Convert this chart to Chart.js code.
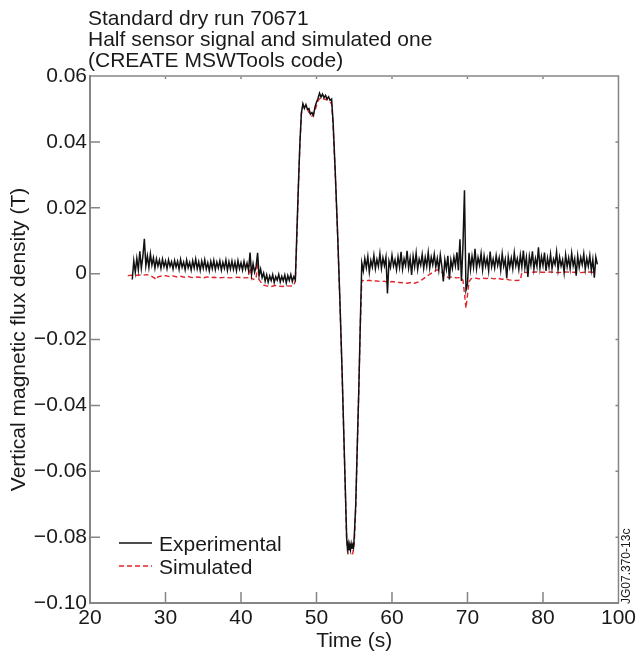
<!DOCTYPE html>
<html>
<head>
<meta charset="utf-8">
<script src="https://cdn.jsdelivr.net/npm/chart.js@4.4.1/dist/chart.umd.min.js"></script>
<style>
  html, body { margin: 0; padding: 0; background: #fff; }
  #wrap { width: 639px; height: 660px; }
</style>
</head>
<body>
<div id="wrap"><canvas id="flux" width="639" height="660"></canvas></div>
<script>
// Standard dry run 70671, half sensor signal vs simulated one
const titleLines = ['Standard dry run 70671', 'Half sensor signal and simulated one', '(CREATE MSWTools code)'];
const xTicksShown = [20, 30, 40, 50, 60, 70, 80, 90];
const xTickText = ['20', '30', '40', '50', '60', '70', '80', '100'];

// [time (s), flux (T)]
const experimental = [
  [25.6,-0.0018],[25.8,0.0039],[26.0,0.0004],[26.2,0.0046],[26.4,0.0012],[26.6,0.0068],[26.8,0.0016],[27.0,0.0052],
  [27.2,0.0106],[27.4,0.0024],[27.6,0.0054],[27.8,0.0019],[28.0,0.0060],[28.2,0.0026],[28.4,0.0048],[28.6,0.0017],
  [28.8,0.0045],[29.0,0.0023],[29.2,0.0041],[29.4,0.0016],[29.6,0.0044],[29.8,0.0021],[30.0,0.0038],[30.2,0.0015],
  [30.4,0.0042],[30.6,0.0022],[30.8,0.0036],[31.0,0.0014],[31.2,0.0040],[31.4,0.0020],[31.6,0.0037],[31.8,0.0013],
  [32.0,0.0043],[32.2,0.0019],[32.4,0.0035],[32.6,0.0012],[32.8,0.0041],[33.0,0.0018],[33.2,0.0034],[33.4,0.0011],
  [33.6,0.0039],[33.8,0.0017],[34.0,0.0044],[34.2,0.0015],[34.4,0.0036],[34.6,0.0010],[34.8,0.0038],[35.0,0.0016],
  [35.2,0.0042],[35.4,0.0014],[35.6,0.0033],[35.8,0.0009],[36.0,0.0037],[36.2,0.0015],[36.4,0.0040],[36.6,0.0012],
  [36.8,0.0035],[37.0,0.0017],[37.2,0.0039],[37.4,0.0011],[37.6,0.0034],[37.8,0.0016],[38.0,0.0041],[38.2,0.0010],
  [38.4,0.0036],[38.6,0.0014],[38.8,0.0038],[39.0,0.0013],[39.2,0.0035],[39.4,0.0009],[39.6,0.0039],[39.8,0.0015],
  [40.0,0.0033],[40.2,0.0011],[40.4,0.0037],[40.6,0.0014],[40.8,0.0032],[41.0,0.0010],
  [41.2,0.0064],[41.4,-0.0002],[41.6,0.0030],[41.8,0.0004],[42.0,0.0022],[42.2,0.0063],[42.4,-0.0006],[42.6,0.0014],
  [42.8,-0.0012],[43.0,0.0002],[43.2,-0.0023],[43.4,-0.0004],[43.6,-0.0026],[43.8,-0.0007],[44.0,-0.0021],[44.2,-0.0003],
  [44.4,-0.0027],[44.6,-0.0009],[44.8,-0.0020],[45.0,-0.0002],[45.2,-0.0025],[45.4,-0.0008],[45.6,-0.0022],[45.8,-0.0004],
  [46.0,-0.0028],[46.2,-0.0006],[46.4,-0.0021],[46.6,-0.0003],[46.8,-0.0024],[47.0,-0.0009],[47.2,-0.0019],
  [47.4,0.0125],[47.6,0.0265],[47.8,0.0395],[48.0,0.0488],[48.2,0.0516],[48.4,0.0502],[48.6,0.0513],[48.8,0.0499],
  [49.0,0.0501],[49.2,0.0484],[49.4,0.0489],[49.6,0.0480],[49.8,0.0506],[50.0,0.0520],[50.2,0.0532],[50.4,0.0548],
  [50.6,0.0536],[50.8,0.0545],[51.0,0.0534],[51.2,0.0541],[51.4,0.0530],[51.6,0.0537],[51.8,0.0526],[52.0,0.0530],
  [52.2,0.0460],[52.5,0.0300],[52.8,0.0120],[53.1,-0.0080],[53.4,-0.0305],[53.7,-0.0555],[54.0,-0.0805],[54.1,-0.0835],
  [54.2,-0.0820],[54.3,-0.0840],[54.4,-0.0823],[54.5,-0.0838],[54.6,-0.0821],[54.7,-0.0836],[54.8,-0.0824],[54.9,-0.0832],
  [55.0,-0.0800],[55.2,-0.0700],[55.4,-0.0525],[55.6,-0.0355],[55.8,-0.0155],[56.0,0.0032],
  [56.2,0.0008],[56.4,0.0046],[56.6,0.0018],[56.8,0.0052],[57.0,0.0004],[57.2,0.0040],[57.4,0.0020],[57.6,0.0055],
  [57.8,0.0015],[58.0,0.0043],[58.2,0.0022],[58.4,0.0061],[58.6,0.0016],[58.8,0.0048],[59.0,0.0024],[59.2,0.0050],
  [59.4,-0.0060],[59.6,0.0038],[59.8,0.0019],[60.0,0.0056],[60.2,0.0023],[60.4,0.0042],[60.6,0.0012],[60.8,0.0051],
  [61.0,0.0020],[61.2,0.0066],[61.4,0.0014],[61.6,0.0045],[61.8,0.0025],[62.0,0.0069],[62.2,0.0017],[62.4,0.0047],
  [62.6,-0.0004],[62.8,0.0053],[63.0,0.0021],[63.2,0.0062],[63.4,0.0013],[63.6,0.0044],[63.8,0.0026],[64.0,0.0058],
  [64.2,0.0016],[64.4,0.0049],[64.6,0.0022],[64.8,0.0064],[65.0,0.0018],[65.2,0.0050],[65.4,0.0027],[65.6,0.0059],
  [65.8,0.0020],[66.0,0.0046],[66.2,0.0011],[66.4,0.0057],[66.6,0.0023],[66.8,-0.0024],[67.0,0.0042],[67.2,0.0014],
  [67.4,0.0054],[67.6,-0.0018],[67.8,0.0041],[68.0,0.0016],[68.2,0.0050],[68.4,0.0024],[68.6,0.0065],[68.8,0.0010],
  [69.0,0.0104],[69.2,-0.0022],[69.4,0.0085],[69.6,0.0253],[69.8,-0.0050],[70.0,-0.0032],[70.2,0.0063],[70.4,0.0013],
  [70.6,0.0053],[70.8,0.0020],[71.0,0.0075],[71.2,0.0015],[71.4,0.0049],[71.6,0.0026],[71.8,0.0061],[72.0,0.0012],
  [72.2,0.0054],[72.4,0.0023],[72.6,0.0046],[72.8,0.0009],[73.0,0.0067],[73.2,0.0021],[73.4,0.0044],[73.6,0.0017],
  [73.8,0.0055],[74.0,0.0025],[74.2,0.0048],[74.4,0.0011],[74.6,0.0060],[74.8,0.0022],[75.0,0.0043],[75.2,-0.0014],
  [75.4,0.0051],[75.6,0.0020],[75.8,0.0047],[76.0,0.0015],[76.2,0.0063],[76.4,0.0024],[76.6,0.0045],[76.8,0.0013],
  [77.0,0.0056],[77.2,0.0021],[77.4,0.0070],[77.6,0.0018],[77.8,0.0049],[78.0,-0.0010],[78.2,0.0053],[78.4,0.0026],
  [78.6,0.0068],[78.8,0.0014],[79.0,0.0046],[79.2,0.0022],[79.4,0.0080],[79.6,0.0017],[79.8,0.0052],[80.0,0.0025],
  [80.2,0.0064],[80.4,0.0008],[80.6,0.0047],[80.8,0.0020],[81.0,0.0059],[81.2,0.0016],[81.4,0.0044],[81.6,0.0028],
  [81.8,0.0066],[82.0,0.0012],[82.2,0.0050],[82.4,0.0023],[82.6,0.0042],[82.8,0.0003],[83.0,0.0057],[83.2,0.0021],
  [83.4,0.0048],[83.6,0.0015],[83.8,0.0062],[84.0,0.0024],[84.2,0.0045],[84.4,-0.0006],[84.6,0.0054],[84.8,0.0019],
  [85.0,0.0049],[85.2,0.0027],[85.4,0.0060],[85.6,0.0013],[85.8,0.0046],[86.0,0.0022],[86.2,0.0055],[86.4,0.0010],
  [86.6,0.0043],[86.8,-0.0012],[87.0,0.0050],[87.2,0.0028]
];

const simulated = [
  [25.0,-0.0006],[25.5,-0.0005],[26.0,-0.0006],[26.5,-0.0004],[27.0,-0.0005],[27.5,-0.0003],[28.0,-0.0006],[28.5,-0.0013],
  [28.8,-0.0018],[29.0,-0.0010],[29.5,-0.0007],[30.0,-0.0006],[30.5,-0.0009],[31.0,-0.0007],[31.5,-0.0010],[32.0,-0.0008],
  [32.5,-0.0011],[33.0,-0.0009],[33.5,-0.0012],[34.0,-0.0010],[34.5,-0.0011],[35.0,-0.0013],[35.5,-0.0010],[36.0,-0.0012],
  [36.5,-0.0011],[37.0,-0.0013],[37.5,-0.0012],[38.0,-0.0011],[38.5,-0.0013],[39.0,-0.0012],[39.5,-0.0011],[40.0,-0.0012],
  [40.5,-0.0013],[41.0,-0.0012],[41.2,0.0030],[41.4,-0.0015],[41.8,-0.0018],[42.0,-0.0015],[42.2,0.0035],[42.4,-0.0018],
  [42.7,-0.0028],[43.0,-0.0035],[43.5,-0.0038],[44.0,-0.0039],[44.5,-0.0036],[45.0,-0.0038],[45.5,-0.0039],[46.0,-0.0037],
  [46.5,-0.0038],[47.0,-0.0036],[47.2,-0.0020],[47.4,0.0110],[47.6,0.0260],[47.8,0.0390],[48.0,0.0485],[48.2,0.0508],
  [48.6,0.0505],[49.0,0.0490],[49.4,0.0478],[49.8,0.0495],[50.2,0.0525],[50.6,0.0535],[51.0,0.0530],[51.4,0.0528],
  [51.8,0.0522],[52.0,0.0515],[52.2,0.0450],[52.5,0.0295],[52.8,0.0115],[53.1,-0.0085],[53.4,-0.0310],[53.7,-0.0560],
  [54.0,-0.0810],[54.2,-0.0850],[54.5,-0.0852],[54.8,-0.0850],[55.0,-0.0820],[55.2,-0.0710],[55.4,-0.0530],[55.6,-0.0360],
  [55.8,-0.0160],[56.0,-0.0020],[56.5,-0.0022],[57.0,-0.0020],[57.5,-0.0023],[58.0,-0.0022],[58.5,-0.0024],[59.0,-0.0023],
  [59.5,-0.0028],[60.0,-0.0024],[60.5,-0.0026],[61.0,-0.0027],[61.5,-0.0028],[62.0,-0.0029],[62.5,-0.0027],[63.0,-0.0029],
  [63.5,-0.0025],[64.0,-0.0018],[64.5,-0.0010],[65.0,-0.0002],[65.5,0.0005],[66.0,0.0012],[66.5,0.0008],[67.0,-0.0008],
  [67.5,-0.0012],[68.0,-0.0010],[68.5,-0.0013],[69.0,-0.0012],[69.4,-0.0020],[69.6,-0.0060],[69.8,-0.0105],[70.0,-0.0065],
  [70.2,-0.0025],[70.5,-0.0015],[71.0,-0.0013],[71.5,-0.0016],[72.0,-0.0014],[72.5,-0.0015],[73.0,-0.0013],[73.5,-0.0016],
  [74.0,-0.0014],[74.5,-0.0017],[75.0,-0.0016],[75.5,-0.0019],[76.0,-0.0020],[76.5,-0.0021],[77.0,-0.0020],[77.2,0.0003],
  [77.5,0.0004],[78.0,0.0003],[79.0,0.0005],[80.0,0.0004],[81.0,0.0005],[82.0,0.0003],[83.0,0.0005],[84.0,0.0004],
  [85.0,0.0003],[86.0,0.0005],[87.0,0.0004]
];

const FONT = '"Liberation Sans", Arial, Helvetica, sans-serif';
const INK = '#1a1a1a';
const AXIS = '#858585';

function yLabel(v) {
  if (Math.abs(v) < 1e-9) return '0';
  return (v < 0 ? '\u2212' : '') + Math.abs(v).toFixed(2);
}

// title, legend, inner ticks, frame and the figure code
const extras = {
  id: 'extras',
  afterDraw(chart) {
    const { ctx, chartArea: a, scales: { x, y } } = chart;
    ctx.save();

    ctx.strokeStyle = AXIS;
    ctx.lineWidth = 1.5;
    ctx.beginPath();
    ctx.moveTo(a.left, a.top);
    ctx.lineTo(a.right, a.top);
    ctx.lineTo(a.right, a.bottom);
    ctx.stroke();

    // bottom ticks point up; the top edge only gets tiny dots
    x.ticks.forEach(t => {
      const px = x.getPixelForValue(t.value);
      if (px <= a.left + 1 || px >= a.right - 1) return;
      ctx.beginPath();
      ctx.moveTo(px, a.bottom);
      ctx.lineTo(px, a.bottom - 11);
      ctx.moveTo(px, a.top + 1);
      ctx.lineTo(px, a.top + 3);
      ctx.stroke();
    });
    y.ticks.forEach(t => {
      const py = y.getPixelForValue(t.value);
      if (py <= a.top + 1 || py >= a.bottom - 1) return;
      ctx.beginPath();
      ctx.moveTo(a.left, py);
      ctx.lineTo(a.left + 10, py);
      ctx.moveTo(a.right - 3, py);
      ctx.lineTo(a.right, py);
      ctx.stroke();
    });

    ctx.fillStyle = INK;
    ctx.font = '21px ' + FONT;
    ctx.textAlign = 'left';
    ctx.textBaseline = 'alphabetic';
    titleLines.forEach((line, i) => ctx.fillText(line, a.left - 2, 25 + i * 21));

    // legend in the lower left corner of the plot
    ctx.textBaseline = 'middle';
    chart.data.datasets.forEach((ds, i) => {
      const ly = a.bottom - 58 + i * 23;
      ctx.strokeStyle = ds.borderColor;
      ctx.lineWidth = 1.4;
      ctx.setLineDash(ds.borderDash || []);
      ctx.beginPath();
      ctx.moveTo(a.left + 29, ly - 2);
      ctx.lineTo(a.left + 62, ly - 2);
      ctx.stroke();
      ctx.setLineDash([]);
      ctx.fillText(ds.label, a.left + 69, ly);
    });

    ctx.translate(a.right + 8, a.bottom + 1);
    ctx.rotate(-Math.PI / 2);
    ctx.font = '12px ' + FONT;
    ctx.textBaseline = 'middle';
    ctx.fillText('JG07.370-13c', 0, 0);
    ctx.restore();
  }
};

new Chart(document.getElementById('flux'), {
  type: 'line',
  data: {
    datasets: [{
      label: 'Experimental',
      data: experimental.map(([t, b]) => ({ x: t, y: b })),
      borderColor: '#111111',
      borderWidth: 1.5,
      pointRadius: 0,
      tension: 0,
      fill: false
    }, {
      label: 'Simulated',
      data: simulated.map(([t, b]) => ({ x: t, y: b })),
      borderColor: '#e3242b',
      borderWidth: 1.4,
      borderDash: [5, 3],
      pointRadius: 0,
      tension: 0,
      fill: false
    }]
  },
  options: {
    responsive: false,
    animation: false,
    devicePixelRatio: 1,
    layout: { padding: { top: 76, right: 20, left: 0, bottom: 0 } },
    plugins: {
      legend: { display: false },
      title: { display: false },
      tooltip: { enabled: false }
    },
    scales: {
      x: {
        type: 'linear',
        min: xTicksShown[0],
        max: xTicksShown[xTicksShown.length - 1],
        afterFit(s) { s.height = 57; },
        afterBuildTicks(s) { s.ticks = xTicksShown.map(v => ({ value: v })); },
        ticks: {
          autoSkip: false,
          maxRotation: 0,
          padding: 3,
          color: INK,
          font: { size: 21, family: FONT },
          callback: v => xTickText[xTicksShown.indexOf(v)]
        },
        grid: { display: false, drawTicks: false, tickLength: 0 },
        border: { color: AXIS, width: 2 },
        title: {
          display: true,
          text: 'Time (s)',
          color: INK,
          font: { size: 21, family: FONT },
          padding: { top: 0, bottom: 6 }
        }
      },
      y: {
        min: -0.1,
        max: 0.06,
        afterFit(s) { s.width = 90; },
        ticks: {
          stepSize: 0.02,
          padding: 3,
          color: INK,
          font: { size: 21, family: FONT },
          callback: v => yLabel(v)
        },
        grid: { display: false, drawTicks: false, tickLength: 0 },
        border: { color: AXIS, width: 2 },
        title: {
          display: true,
          text: 'Vertical magnetic flux density (T)',
          color: INK,
          font: { size: 21, family: FONT },
          padding: { top: 7, bottom: 0 }
        }
      }
    }
  },
  plugins: [extras]
});
</script>
</body>
</html>
